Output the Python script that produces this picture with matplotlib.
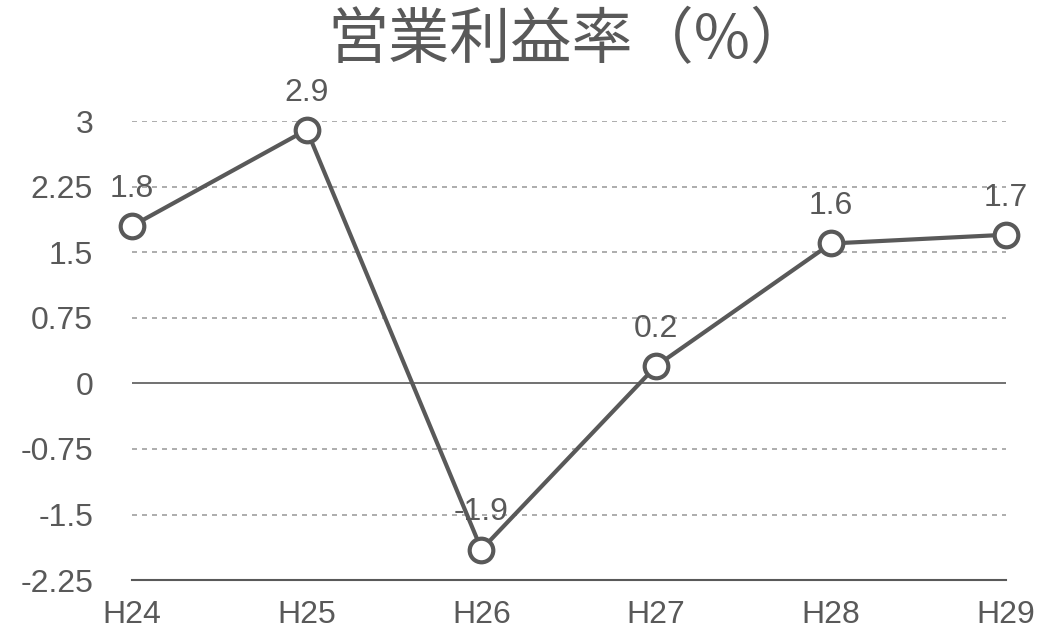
import matplotlib
matplotlib.use('Agg')
import matplotlib.pyplot as plt

YEARS = ['H24', 'H25', 'H26', 'H27', 'H28', 'H29']
MARGIN = [1.8, 2.9, -1.9, 0.2, 1.6, 1.7]
Y_TICKS = [-2.25, -1.5, -0.75, 0, 0.75, 1.5, 2.25, 3]
Y_TICK_LABELS = ['-2.25', '-1.5', '-0.75', '0', '0.75', '1.5', '2.25', '3']

TEXT_COLOR = '#595959'
GRID_COLOR = '#a0a0a0'

plt.rcParams['font.family'] = ['Liberation Sans', 'Noto Sans CJK JP']

fig = plt.figure(figsize=(10.39, 6.34), dpi=100)
ax = fig.add_axes([0.127, 0.085, 0.841, 0.724])

x = list(range(len(YEARS)))
ax.plot(x, MARGIN, color=TEXT_COLOR, linewidth=3, marker='o', markersize=17,
        markerfacecolor='white', markeredgecolor=TEXT_COLOR, markeredgewidth=3,
        zorder=3, clip_on=False)

for xi, v in zip(x, MARGIN):
    ax.annotate(f'{v}', (xi, v), xytext=(0, 16), textcoords='offset points',
                ha='center', va='bottom', fontsize=23, color=TEXT_COLOR, zorder=2)

ax.set_xlim(0, len(YEARS) - 1)
ax.set_ylim(-2.25, 3)
ax.set_yticks(Y_TICKS)
ax.set_yticklabels(Y_TICK_LABELS)
ax.set_xticks(x)
ax.set_xticklabels(YEARS)
ax.tick_params(axis='both', length=0, labelsize=23, labelcolor=TEXT_COLOR)
ax.tick_params(axis='y', pad=28)
ax.tick_params(axis='x', pad=14)

for t in Y_TICKS:
    if t == 0:
        ax.axhline(t, color=TEXT_COLOR, linewidth=1.2, zorder=1)
    elif t != -2.25:
        ax.axhline(t, color=GRID_COLOR, linewidth=1.2, linestyle=(0, (3, 3)), zorder=1)

for side in ['top', 'right', 'left']:
    ax.spines[side].set_visible(False)
ax.spines['bottom'].set_color(TEXT_COLOR)
ax.spines['bottom'].set_linewidth(1.5)

fig.suptitle('営業利益率（%）', x=0.548, y=0.985, va='top', fontsize=44,
             color=TEXT_COLOR, family=['Noto Sans CJK JP'])

fig.savefig('out.png', dpi=100)
